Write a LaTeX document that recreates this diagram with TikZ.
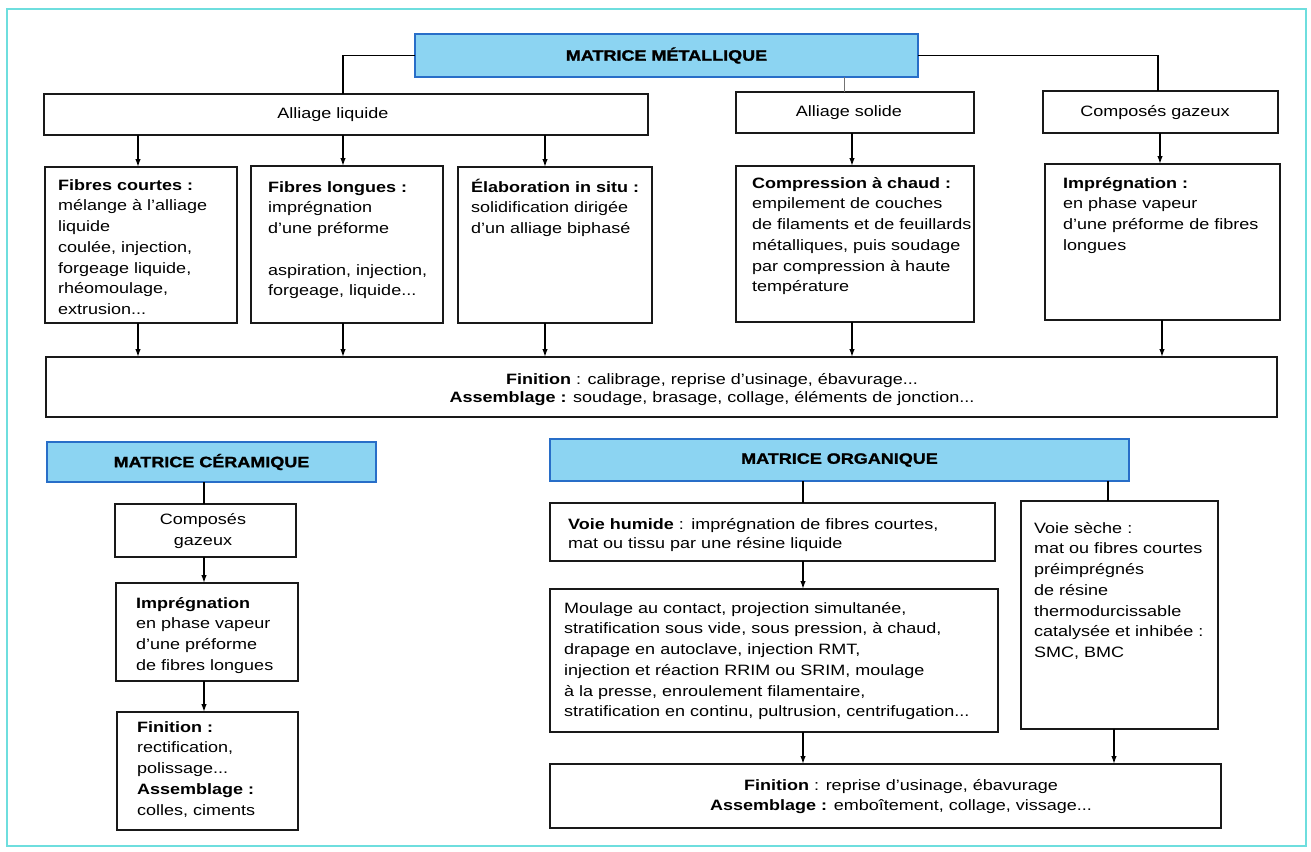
\documentclass[tikz,border=0pt]{standalone}
\usepackage{fontspec}
\setmainfont{Liberation Sans}[FakeStretch=1.2]
\newfontfamily\heavyfont{Liberation Sans Bold}[FakeStretch=1.2,FakeBold=1.5]
\usetikzlibrary{arrows.meta}
\newcommand\fl{\rule{0pt}{14pt}}
\definecolor{framecol}{RGB}{110,222,222}
\definecolor{tfill}{RGB}{140,212,242}
\definecolor{tdraw}{RGB}{40,110,200}
\begin{document}
\begin{tikzpicture}[x=1pt,y=-1pt,
 bx/.style={draw=black!90, line width=1.8pt, fill=white, inner sep=0pt, outer sep=0pt, font=\fontsize{15}{20.7}\selectfont},
 ttl/.style={draw=tdraw, line width=1.7pt, fill=tfill, inner sep=0pt, outer sep=0pt, font=\heavyfont\fontsize{15}{18}\selectfont},
 tx/.style={anchor=north west, inner sep=0pt, align=left, text width=440pt, font=\fontsize{15}{20.7}\selectfont},
 ctx/.style={inner sep=0pt, align=center, font=\fontsize{15}{20.7}\selectfont},
 ln/.style={line width=1.4pt},
 thinln/.style={line width=0.8pt, black!55},
 arr/.style={line width=1.4pt, -{Latex[length=8pt,width=5.5pt]}},
]
\useasboundingbox (0,0) rectangle (1311,851);
\fill[white] (0,0) rectangle (1311,851);
\draw[framecol, line width=1.2pt] (7,9) rectangle (1306,846);

% x positions of vertical connectors
\coordinate (c138) at (138,0);
\coordinate (c343) at (343,0);
\coordinate (c545) at (545,0);
\coordinate (c844) at (844,0);
\coordinate (c852) at (852,0);
\coordinate (c1158) at (1158,0);
\coordinate (c1160) at (1160,0);
\coordinate (c1162) at (1162,0);
\coordinate (c204) at (204,0);
\coordinate (c803) at (803,0);
\coordinate (c1108) at (1108,0);
\coordinate (c1114) at (1114,0);

% ---------- MATRICE METALLIQUE ----------
\node[ttl, minimum width=503pt, minimum height=43pt] (T1) at (666.5,55.5) {MATRICE MÉTALLIQUE};
\node[bx, minimum width=604pt, minimum height=41pt] (AL) at (346,114.5) {};
\node[ctx] (ALt) at (333,115) {Alliage liquide};
\node[bx, minimum width=238pt, minimum height=41pt] (AS) at (855,112.5) {};
\node[ctx] (ASt) at (849,113) {Alliage solide};
\node[bx, minimum width=235pt, minimum height=42pt] (CG) at (1160.5,112) {};
\node[ctx] (CGt) at (1155,113) {Composés gazeux};

\node[bx, minimum width=192pt, minimum height=156pt] (FC) at (141,245) {};
\node[bx, minimum width=192pt, minimum height=157pt] (FL) at (347,244.5) {};
\node[bx, minimum width=194pt, minimum height=156pt] (EL) at (555,245) {};
\node[bx, minimum width=238pt, minimum height=156pt] (CC) at (855,244) {};
\node[bx, minimum width=235pt, minimum height=156pt] (IM) at (1162.5,242) {};

\node[tx] (FCt) at (58,176) {\fl\textbf{Fibres courtes :}\\mélange à l'alliage\\liquide\\coulée, injection,\\forgeage liquide,\\rhéomoulage,\\extrusion...};
\node[tx] (FLt) at (268,178) {\fl\textbf{Fibres longues :}\\imprégnation\\d'une préforme\\~\\aspiration, injection,\\forgeage, liquide...};
\node[tx] (ELt) at (471,178) {\fl\textbf{Élaboration in situ :}\\solidification dirigée\\d'un alliage biphasé};
\node[tx] (CCt) at (752,174) {\fl\textbf{Compression à chaud :}\\empilement de couches\\de filaments et de feuillards\\métalliques, puis soudage\\par compression à haute\\température};
\node[tx] (IMt) at (1063,174) {\fl\textbf{Imprégnation :}\\en phase vapeur\\d'une préforme de fibres\\longues};

\node[bx, minimum width=1231pt, minimum height=60pt] (FIN) at (661.5,387) {};
\node[ctx, font=\fontsize{15}{18}\selectfont] (FINt) at (712,390) {\textbf{Finition} : calibrage, reprise d'usinage, ébavurage...\\\textbf{Assemblage :} soudage, brasage, collage, éléments de jonction...};

\draw[ln] (T1.west) -| (AL.north -| c343);
\draw[ln] (T1.east) -| (CG.north -| c1158);
\draw[thinln] (T1.south -| c844) -- (AS.north -| c844);
\draw[arr] (AL.south -| c138) -- (FC.north -| c138);
\draw[arr] (AL.south -| c343) -- (FL.north -| c343);
\draw[arr] (AL.south -| c545) -- (EL.north -| c545);
\draw[arr] (AS.south -| c852) -- (CC.north -| c852);
\draw[arr] (CG.south -| c1160) -- (IM.north -| c1160);
\draw[arr] (FC.south -| c138) -- (FIN.north -| c138);
\draw[arr] (FL.south -| c343) -- (FIN.north -| c343);
\draw[arr] (EL.south -| c545) -- (FIN.north -| c545);
\draw[arr] (CC.south -| c852) -- (FIN.north -| c852);
\draw[arr] (IM.south -| c1162) -- (FIN.north -| c1162);

% ---------- MATRICE CERAMIQUE ----------
\node[ttl, minimum width=329pt, minimum height=40pt] (TC) at (211.5,462) {MATRICE CÉRAMIQUE};
\node[bx, minimum width=181pt, minimum height=53pt] (CG2) at (205.5,530.5) {};
\node[ctx] (CG2t) at (203,531) {Composés\\gazeux};
\node[bx, minimum width=182pt, minimum height=98pt] (IP2) at (207,632) {};
\node[tx] (IP2t) at (136,594) {\fl\textbf{Imprégnation}\\en phase vapeur\\d'une préforme\\de fibres longues};
\node[bx, minimum width=181pt, minimum height=118pt] (FN2) at (207.5,771) {};
\node[tx] (FN2t) at (137,718) {\fl\textbf{Finition :}\\rectification,\\polissage...\\\textbf{Assemblage :}\\colles, ciments};

\draw[ln] (TC.south -| c204) -- (CG2.north -| c204);
\draw[arr] (CG2.south -| c204) -- (IP2.north -| c204);
\draw[arr] (IP2.south -| c204) -- (FN2.north -| c204);

% ---------- MATRICE ORGANIQUE ----------
\node[ttl, minimum width=579pt, minimum height=42pt] (TO) at (839.5,460) {MATRICE ORGANIQUE};
\node[bx, minimum width=445pt, minimum height=58pt] (VH) at (772.5,532) {};
\node[tx, font=\fontsize{15}{19.5}\selectfont] (VHt) at (568,515) {\fl\textbf{Voie humide} : imprégnation de fibres courtes,\\mat ou tissu par une résine liquide};
\node[bx, minimum width=197pt, minimum height=228pt] (VS) at (1119.5,615) {};
\node[tx] (VSt) at (1034,519) {\fl Voie sèche :\\mat ou fibres courtes\\préimprégnés\\de résine\\thermodurcissable\\catalysée et inhibée :\\SMC, BMC};
\node[bx, minimum width=448pt, minimum height=143pt] (MO) at (774,660.5) {};
\node[tx] (MOt) at (564,599) {\fl Moulage au contact, projection simultanée,\\stratification sous vide, sous pression, à chaud,\\drapage en autoclave, injection RMT,\\injection et réaction RRIM ou SRIM, moulage\\à la presse, enroulement filamentaire,\\stratification en continu, pultrusion, centrifugation...};
\node[bx, minimum width=671pt, minimum height=64pt] (FO) at (885.5,796) {};
\node[ctx, font=\fontsize{15}{20}\selectfont] (FOt) at (901,797) {\textbf{Finition} : reprise d'usinage, ébavurage\\\textbf{Assemblage :} emboîtement, collage, vissage...};

\draw[ln] (TO.south -| c803) -- (VH.north -| c803);
\draw[ln] (TO.south -| c1108) -- (VS.north -| c1108);
\draw[arr] (VH.south -| c803) -- (MO.north -| c803);
\draw[arr] (MO.south -| c803) -- (FO.north -| c803);
\draw[arr] (VS.south -| c1114) -- (FO.north -| c1114);
\end{tikzpicture}
\end{document}
